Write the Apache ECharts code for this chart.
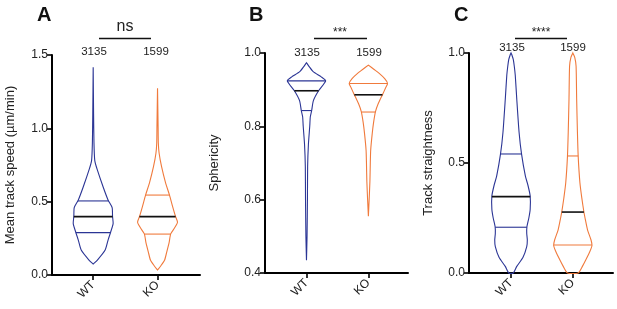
<!DOCTYPE html>
<html>
<head>
<meta charset="utf-8">
<script src="https://cdn.jsdelivr.net/npm/echarts@6/dist/echarts.min.js"></script>
<style>
  html, body { margin: 0; padding: 0; background: #fff; }
  #chart { width: 617px; height: 309px; }
</style>
</head>
<body>
<div id="chart"></div>
<script>
var categories = ['WT', 'KO'];
var counts = [3135, 1599];

// violin outlines: [value, relative density]
var speedWT = [[0.075,0],[0.10,0.2],[0.17,0.6],[0.24,0.75],[0.29,0.87],[0.35,1.0],[0.40,0.97],[0.46,0.95],[0.51,0.75],[0.60,0.5],[0.72,0.2],[0.78,0.08],[0.90,0.04],[1.10,0.02],[1.416,0]];
var speedKO = [[0.034,0],[0.06,0.15],[0.10,0.35],[0.15,0.45],[0.22,0.58],[0.28,0.66],[0.32,0.85],[0.36,1.0],[0.40,0.9],[0.47,0.75],[0.545,0.6],[0.63,0.4],[0.74,0.2],[0.83,0.08],[0.90,0.04],[1.00,0.03],[1.273,0]];
var sphWT = [[0.435,0],[0.50,0.03],[0.60,0.05],[0.69,0.06],[0.75,0.1],[0.80,0.17],[0.826,0.2],[0.843,0.27],[0.87,0.36],[0.897,0.63],[0.924,1.0],[0.935,0.77],[0.949,0.35],[0.963,0.14],[0.9735,0]];
var sphKO = [[0.555,0],[0.60,0.04],[0.65,0.08],[0.70,0.1],[0.735,0.12],[0.78,0.2],[0.81,0.27],[0.84,0.37],[0.86,0.5],[0.887,0.74],[0.905,0.9],[0.917,1.0],[0.93,0.85],[0.945,0.55],[0.955,0.3],[0.967,0]];
var strWT = [[0.0,0.12],[0.03,0.3],[0.07,0.62],[0.12,0.82],[0.15,0.85],[0.18,0.82],[0.21,0.83],[0.25,0.93],[0.29,1.0],[0.35,1.0],[0.40,0.88],[0.44,0.75],[0.54,0.55],[0.64,0.42],[0.79,0.3],[0.90,0.22],[0.94,0.17],[0.97,0.12],[0.99,0.05],[1.0,0]];
var strKO = [[0.0,0.28],[0.03,0.5],[0.06,0.68],[0.10,0.9],[0.125,1.0],[0.15,0.95],[0.195,0.77],[0.24,0.66],[0.276,0.58],[0.34,0.47],[0.41,0.37],[0.53,0.28],[0.64,0.24],[0.79,0.2],[0.94,0.17],[0.98,0.1],[1.0,0]];

// quartiles: [Q1, median, Q3]
var speedQuart = [[0.289, 0.398, 0.505], [0.279, 0.398, 0.545]];
var sphQuart = [[0.843, 0.897, 0.924], [0.839, 0.886, 0.917]];
var strQuart = [[0.208, 0.347, 0.541], [0.127, 0.277, 0.532]];

var yTicksSpeed = [0, 1.5, 0.5];
var yTicksSph = [0.4, 1.0, 0.2];
var yTicksStr = [0, 1.0, 0.5];

var colors = ['#2b3595', '#f07a3c'];
var HALF = 0.31;

function interp(prof, v) {
  for (var i = 0; i < prof.length - 1; i++) {
    var a = prof[i], b = prof[i + 1];
    if (v >= a[0] && v <= b[0]) {
      return a[1] + (b[1] - a[1]) * (v - a[0]) / (b[0] - a[0]);
    }
  }
  return 0;
}

function violinSeries(idx, profiles, quarts) {
  return {
    type: 'custom',
    xAxisIndex: idx, yAxisIndex: idx,
    data: [[0], [1]],
    renderItem: function (params, api) {
      var k = params.dataIndex;
      var prof = profiles[k];
      var pts = [];
      prof.forEach(function (p) { pts.push(api.coord([k + p[1] * HALF, p[0]])); });
      for (var i = prof.length - 1; i >= 0; i--) {
        pts.push(api.coord([k - prof[i][1] * HALF, prof[i][0]]));
      }
      var children = [{
        type: 'polygon',
        shape: { points: pts, smooth: 0.2 },
        style: { fill: 'none', stroke: colors[k], lineWidth: 1.1 }
      }];
      quarts[k].forEach(function (q, j) {
        var w = interp(prof, q) * HALF;
        var p1 = api.coord([k - w, q]), p2 = api.coord([k + w, q]);
        children.push({
          type: 'line',
          shape: { x1: p1[0], y1: p1[1], x2: p2[0], y2: p2[1] },
          style: { stroke: j === 1 ? '#111' : colors[k], lineWidth: j === 1 ? 1.6 : 1.1 }
        });
      });
      return { type: 'group', children: children };
    }
  };
}

var grids = [
  { left: 52, right: 417, top: 55, bottom: 34 },
  { left: 265, right: 209, top: 53, bottom: 36 },
  { left: 469, right: 4, top: 53, bottom: 36 }
];
var xRange = [[-0.64, 1.66], [-0.67, 1.64], [-0.68, 1.65]];
var yTicks = [yTicksSpeed, yTicksSph, yTicksStr];
var yNames = ['Mean track speed (µm/min)', 'Sphericity', 'Track straightness'];
var yGaps = [35, 44, 34];

var axisLine = { show: true, onZero: false, lineStyle: { color: '#000', width: 2 } };
var axisTick = { show: true, length: 5, lineStyle: { color: '#000', width: 1.6 } };

var option = {
  animation: false,
  backgroundColor: '#fff',
  grid: grids,
  xAxis: grids.map(function (g, i) {
    return {
      type: 'value', gridIndex: i, min: xRange[i][0], max: xRange[i][1],
      splitLine: { show: false }, axisLine: axisLine,
      axisTick: { show: true, length: 5, lineStyle: { color: '#000', width: 1.6 }, customValues: [0, 1] },
      axisLabel: {
        customValues: [0, 1], rotate: 45, margin: 8, fontSize: 12, color: '#222',
        fontFamily: 'Liberation Sans',
        formatter: function (v) { return categories[Math.round(v)]; }
      }
    };
  }),
  yAxis: grids.map(function (g, i) {
    return {
      type: 'value', gridIndex: i, min: yTicks[i][0], max: yTicks[i][1], interval: yTicks[i][2],
      splitLine: { show: false }, axisLine: axisLine, axisTick: axisTick,
      axisLabel: { fontSize: 12, color: '#222', margin: 4, fontFamily: 'Liberation Sans',
        formatter: function (v) { return v.toFixed(1); } },
      name: yNames[i], nameLocation: 'middle', nameGap: yGaps[i],
      nameTextStyle: { fontSize: 13, color: '#222', fontFamily: 'Liberation Sans' }
    };
  }),
  series: [
    violinSeries(0, [speedWT, speedKO], speedQuart),
    violinSeries(1, [sphWT, sphKO], sphQuart),
    violinSeries(2, [strWT, strKO], strQuart)
  ],
  graphic: [
    { type: 'text', left: 37, top: 5, style: { text: 'A', fontSize: 20, fontWeight: 'bold', fill: '#111', fontFamily: 'Liberation Sans' } },
    { type: 'text', left: 249, top: 5, style: { text: 'B', fontSize: 20, fontWeight: 'bold', fill: '#111', fontFamily: 'Liberation Sans' } },
    { type: 'text', left: 454, top: 5, style: { text: 'C', fontSize: 20, fontWeight: 'bold', fill: '#111', fontFamily: 'Liberation Sans' } },

    { type: 'line', shape: { x1: 99, y1: 38.5, x2: 151, y2: 38.5 }, style: { stroke: '#111', lineWidth: 1.5 } },
    { type: 'text', x: 125, y: 19, style: { text: 'ns', fontSize: 16, fill: '#222', align: 'center', fontFamily: 'Liberation Sans' } },
    { type: 'line', shape: { x1: 314, y1: 38.5, x2: 367, y2: 38.5 }, style: { stroke: '#111', lineWidth: 1.5 } },
    { type: 'text', x: 340, y: 27, style: { text: '***', fontSize: 12, fill: '#222', align: 'center', fontFamily: 'Liberation Sans' } },
    { type: 'line', shape: { x1: 515, y1: 38.5, x2: 567, y2: 38.5 }, style: { stroke: '#111', lineWidth: 1.5 } },
    { type: 'text', x: 541, y: 27, style: { text: '****', fontSize: 12, fill: '#222', align: 'center', fontFamily: 'Liberation Sans' } },

    { type: 'text', x: 94, y: 46, style: { text: String(counts[0]), fontSize: 11.5, fill: '#222', align: 'center', fontFamily: 'Liberation Sans' } },
    { type: 'text', x: 156, y: 46, style: { text: String(counts[1]), fontSize: 11.5, fill: '#222', align: 'center', fontFamily: 'Liberation Sans' } },
    { type: 'text', x: 307, y: 47, style: { text: String(counts[0]), fontSize: 11.5, fill: '#222', align: 'center', fontFamily: 'Liberation Sans' } },
    { type: 'text', x: 369, y: 47, style: { text: String(counts[1]), fontSize: 11.5, fill: '#222', align: 'center', fontFamily: 'Liberation Sans' } },
    { type: 'text', x: 512, y: 42, style: { text: String(counts[0]), fontSize: 11.5, fill: '#222', align: 'center', fontFamily: 'Liberation Sans' } },
    { type: 'text', x: 573, y: 42, style: { text: String(counts[1]), fontSize: 11.5, fill: '#222', align: 'center', fontFamily: 'Liberation Sans' } }
  ]
};

var myChart = echarts.init(document.getElementById('chart'));
myChart.setOption(option);
</script>
</body>
</html>
